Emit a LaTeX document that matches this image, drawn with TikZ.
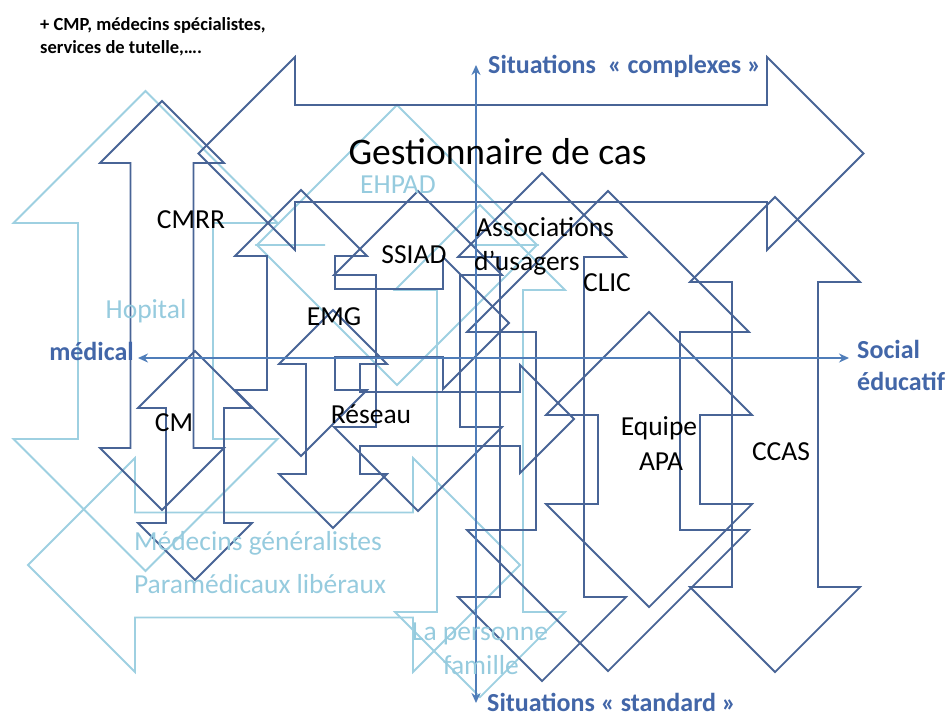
\documentclass[tikz,border=0pt]{standalone}
\usepackage{fontspec}
\setmainfont{Carlito}
\usetikzlibrary{arrows.meta,positioning}
\definecolor{arrdark}{RGB}{72,100,150}
\definecolor{arrlight}{RGB}{158,208,225}
\definecolor{axisblue}{RGB}{79,125,185}
\definecolor{axistext}{RGB}{66,102,168}
\definecolor{textlight}{RGB}{150,203,222}

\begin{document}
\begin{tikzpicture}
        [x=1pt, y=-1pt, font=\fontsize{27.5}{30}\selectfont,
        dark/.style={draw=arrdark, line width=1.8pt},
        light/.style={draw=arrlight, line width=1.8pt},
        axis/.style={draw=axisblue, line width=2.6pt,
          {Stealth[length=10pt,width=9pt]}-{Stealth[length=10pt,width=9pt]}},
        lbl/.style={anchor=base, inner sep=0pt},
        pale/.style={lbl, text=textlight},
        axlbl/.style={inner sep=0pt, text=axistext,
          font=\fontsize{26}{29}\selectfont\bfseries},
        note/.style={anchor=base west, inner sep=0pt,
          font=\fontsize{18.5}{21}\selectfont\bfseries},
        pics/updown/.style n args={3}{code={
          \draw[pic actions] (0,-#3-#1) -- (#1,-#3) -- (#2,-#3) -- (#2,#3) -- (#1,#3)
            -- (0,#3+#1) -- (-#1,#3) -- (-#2,#3) -- (-#2,-#3) -- (-#1,-#3) -- cycle;}},
        pics/updownright/.style n args={4}{code={
          \draw[pic actions] (0,-#3-#1) -- (#1,-#3) -- (#2,-#3) -- (#2,-#2) -- (#4,-#2)
            -- (#4,-#1) -- (#4+#1,0) -- (#4,#1) -- (#4,#2) -- (#2,#2) -- (#2,#3)
            -- (#1,#3) -- (0,#3+#1) -- (-#1,#3) -- (-#2,#3) -- (-#2,-#3) -- (-#1,-#3) -- cycle;}}]
        \useasboundingbox (0,0) rectangle (949,718);
        % pale arrows
        \pic[light] at (145.5,331) {updown={132}{67.5}{108}};
        \pic[light] at (397,245) {updown={140}{72}{0}};
        \pic[light] at (480,451) {updown={85}{43}{161}};
        \pic[light, rotate=90] at (274,565) {updown={107}{52.5}{139}};
        % dark arrows
        \pic[dark, rotate=90] at (531,153.5) {updown={96.5}{48.5}{236}};
        \pic[dark] at (162,305.5) {updown={62}{31.5}{142.5}};
        \pic[dark] at (195,465.5) {updown={57}{29}{57.5}};
        \pic[dark] at (301,323) {updownright={66}{34}{67}{142}};
        \pic[dark] at (333,419) {updownright={54}{27}{55}{187}};
        \pic[dark] at (418,351) {updown={84}{42}{76}};
        \pic[dark] at (542,427) {updown={84}{42}{170}};
        \pic[dark] at (608,431) {updown={141}{72}{99}};
        \pic[dark] at (649,459.5) {updown={103}{51}{44.5}};
        \pic[dark] at (775,434.5) {updown={85}{43}{152.5}};
        % axes
        \coordinate (west) at (138,358);
        \coordinate (east) at (849,358);
        \coordinate (north) at (476,65);
        \coordinate (south) at (476,703);
        \draw[axis] (west) -- (east);
        \draw[axis] (south) -- (north);
        \node[axlbl, anchor=base east] (medical) at (134,360) {médical};
        \node[axlbl, anchor=base west] (social) at (857,358) {Social};
        \node[axlbl, anchor=base west] (educatif) at (857,390) {éducatif};
        \node[axlbl, anchor=base west] (complexes) at (488,73) {Situations\ \ « complexes »};
        \node[axlbl, anchor=base west] (standard) at (487,711) {Situations « standard »};
        % labels
        \node[lbl, font=\fontsize{37.5}{40}\selectfont] (gest) at (497.5,164) {Gestionnaire de cas};
        \node[lbl] (cmrr) at (191,228) {CMRR};
        \node[lbl] (ssiad) at (414,263) {SSIAD};
        \node[lbl, anchor=base west] (assoc) at (476,236) {Associations};
        \node[lbl, anchor=base west] (usagers) at (474,270) {d'usagers};
        \node[lbl] (clic) at (607,291) {CLIC};
        \node[lbl] (emg) at (334,325) {EMG};
        \node[lbl] (cm) at (174,431) {CM};
        \node[lbl] (reseau) at (371,423) {Réseau};
        \node[lbl] (equipe) at (659,435) {Equipe};
        \node[lbl] (apa) at (661,470) {APA};
        \node[lbl] (ccas) at (781,460) {CCAS};
        \node[pale] (ehpad) at (398,193) {EHPAD};
        \node[pale] (hopital) at (146,318) {Hopital};
        \node[pale] (medgen) at (258,550) {Médecins généralistes};
        \node[pale] (paramed) at (260,593) {Paramédicaux libéraux};
        \node[pale] (personne) at (480,640) {La personne};
        \node[pale] (famille) at (481,674) {famille};
        \node[note] (cmp) at (40,30) {+ CMP, médecins spécialistes,};
        \node[note] (tutelle) at (40,53) {services de tutelle,….};
\end{tikzpicture}
\end{document}
